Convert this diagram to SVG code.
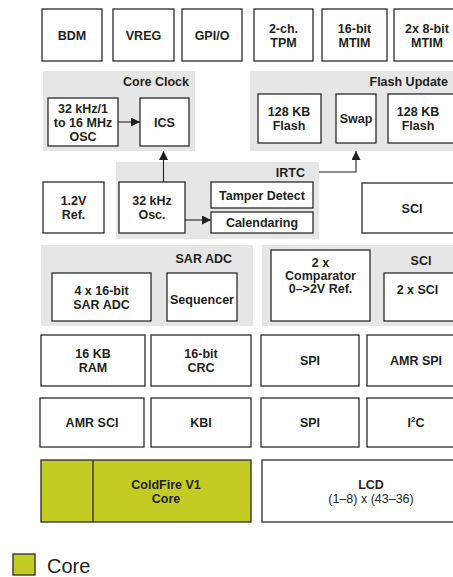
<svg xmlns="http://www.w3.org/2000/svg" width="453" height="577" viewBox="0 0 453 577">
<style>
.b{fill:#fff;stroke:#2b2b2b;stroke-width:1.3}
.p{fill:#e6e6e6;stroke:none}
.c{fill:#c4cc24;stroke:#2b2b2b;stroke-width:1.3}
text{font-family:"Liberation Sans",Arial,sans-serif;font-weight:bold;font-size:12.5px;fill:#231f20;text-anchor:middle}
.r{text-anchor:end}
.w{stroke:#231f20;stroke-width:1.1;fill:none}
</style>
<defs>
<marker id="ah" viewBox="0 0 10 10" refX="10" refY="5" markerWidth="9" markerHeight="9" markerUnits="userSpaceOnUse" orient="auto">
<path d="M0,0 L10,5 L0,10 Z" fill="#231f20"/>
</marker>
</defs>
<!-- panels -->
<rect id="panel-coreclock" class="p" x="43" y="71" width="152" height="80"/>
<rect id="panel-flash" class="p" x="250" y="71" width="210" height="80"/>
<rect id="panel-irtc" class="p" x="116" y="162" width="203" height="77"/>
<rect id="panel-sar" class="p" x="41" y="245" width="212" height="81"/>
<rect id="panel-sci" class="p" x="262" y="245" width="200" height="81"/>
<text class="r" x="189" y="86">Core Clock</text>
<text class="r" x="448" y="86">Flash Update</text>
<text class="r" x="305" y="177">IRTC</text>
<text class="r" x="232" y="263">SAR ADC</text>
<text x="421" y="265">SCI</text>
<!-- row 1 -->
<g id="bdm"><rect class="b" x="42" y="9" width="60" height="52"/><text x="72" y="39.5">BDM</text></g>
<g id="vreg"><rect class="b" x="113" y="9" width="61" height="52"/><text x="143.5" y="39.5">VREG</text></g>
<g id="gpio"><rect class="b" x="182" y="9" width="60" height="52"/><text x="212" y="39.5">GPI/O</text></g>
<g id="tpm"><rect class="b" x="254" y="9" width="59" height="52"/><text x="283.5" y="32.5">2-ch.</text><text x="283.5" y="46.5">TPM</text></g>
<g id="mtim16"><rect class="b" x="322" y="9" width="65" height="52"/><text x="354.5" y="32.5">16-bit</text><text x="354.5" y="46.5">MTIM</text></g>
<g id="mtim8"><rect class="b" x="394" y="9" width="68" height="52"/><text x="427" y="32.5">2x 8-bit</text><text x="427" y="46.5">MTIM</text></g>
<!-- core clock -->
<g id="osc"><rect class="b" x="48" y="98" width="70" height="48"/><text x="83" y="112.5">32 kHz/1</text><text x="83" y="126.5">to 16 MHz</text><text x="83" y="140.5">OSC</text></g>
<g id="ics"><rect class="b" x="140" y="98" width="49" height="48"/><text x="164.5" y="126.5">ICS</text></g>
<!-- flash update -->
<g id="flash1"><rect class="b" x="258" y="94" width="63" height="49"/><text x="289" y="116">128 KB</text><text x="289" y="130">Flash</text></g>
<g id="swap"><rect class="b" x="336" y="94" width="40" height="49"/><text x="356" y="123">Swap</text></g>
<g id="flash2"><rect class="b" x="388" y="94" width="74" height="49"/><text x="418" y="116">128 KB</text><text x="418" y="130">Flash</text></g>
<!-- row 3 -->
<g id="ref"><rect class="b" x="43" y="182" width="61" height="51"/><text x="73.5" y="205">1.2V</text><text x="73.5" y="219">Ref.</text></g>
<g id="osc32"><rect class="b" x="119" y="182" width="66" height="51"/><text x="152" y="205">32 kHz</text><text x="152" y="219">Osc.</text></g>
<g id="tamper"><rect class="b" x="211" y="182" width="102" height="26"/><text x="262" y="200">Tamper Detect</text></g>
<g id="calendar"><rect class="b" x="211" y="212" width="102" height="21"/><text x="262" y="227">Calendaring</text></g>
<g id="sci1"><rect class="b" x="362" y="183" width="100" height="50"/><text x="412" y="212.5">SCI</text></g>
<!-- row 4 -->
<g id="sar"><rect class="b" x="52" y="273" width="99" height="48"/><text x="101.5" y="294.5">4 x 16-bit</text><text x="101.5" y="308.5">SAR ADC</text></g>
<g id="seq"><rect class="b" x="167" y="273" width="70" height="48"/><text x="202" y="304">Sequencer</text></g>
<g id="comp"><rect class="b" x="271" y="250" width="99" height="71"/><text x="320.5" y="267">2 x</text><text x="320.5" y="280">Comparator</text><text x="320.5" y="293">0–&gt;2V Ref.</text></g>
<g id="sci2"><rect class="b" x="384" y="273" width="78" height="48"/><text x="417.5" y="294">2 x SCI</text></g>
<!-- row 5 -->
<g id="ram"><rect class="b" x="41" y="335" width="104" height="51"/><text x="93" y="358">16 KB</text><text x="93" y="372">RAM</text></g>
<g id="crc"><rect class="b" x="151" y="335" width="100" height="51"/><text x="201" y="358">16-bit</text><text x="201" y="372">CRC</text></g>
<g id="spi1"><rect class="b" x="261" y="335" width="98" height="51"/><text x="310" y="365">SPI</text></g>
<g id="amrspi"><rect class="b" x="367" y="335" width="95" height="51"/><text x="416" y="365">AMR SPI</text></g>
<!-- row 6 -->
<g id="amrsci"><rect class="b" x="40" y="398" width="104" height="49"/><text x="92" y="427">AMR SCI</text></g>
<g id="kbi"><rect class="b" x="151" y="398" width="100" height="49"/><text x="201" y="427">KBI</text></g>
<g id="spi2"><rect class="b" x="261" y="398" width="98" height="49"/><text x="310" y="427">SPI</text></g>
<g id="i2c"><rect class="b" x="367" y="398" width="95" height="49"/><text x="416" y="427">I<tspan dy="-5" font-size="8">2</tspan><tspan dy="5">C</tspan></text></g>
<!-- row 7 -->
<g id="core"><rect class="c" x="41" y="460" width="210" height="62"/><line x1="93" y1="460" x2="93" y2="522" stroke="#2b2b2b" stroke-width="1.3"/><text x="166" y="488.5">ColdFire V1</text><text x="166" y="502.5">Core</text></g>
<g id="lcd"><rect class="b" x="262" y="460" width="200" height="62"/><text x="371" y="488.5">LCD</text><text x="371" y="502.5" style="font-weight:normal">(1–8) x (43–36)</text></g>
<!-- connectors -->
<g id="connectors">
<line class="w" x1="118" y1="122" x2="140" y2="122" marker-end="url(#ah)"/>
<line class="w" x1="163.5" y1="182" x2="163.5" y2="151" marker-end="url(#ah)"/>
<line class="w" x1="185" y1="220" x2="211" y2="220" marker-end="url(#ah)"/>
<polyline class="w" points="319,172 356,172 356,151" marker-end="url(#ah)"/>
</g>
<!-- legend -->
<g id="legend"><rect class="c" x="13" y="554" width="22" height="21"/><text x="47" y="573" style="font-weight:normal;font-size:20px;text-anchor:start">Core</text></g>
</svg>
